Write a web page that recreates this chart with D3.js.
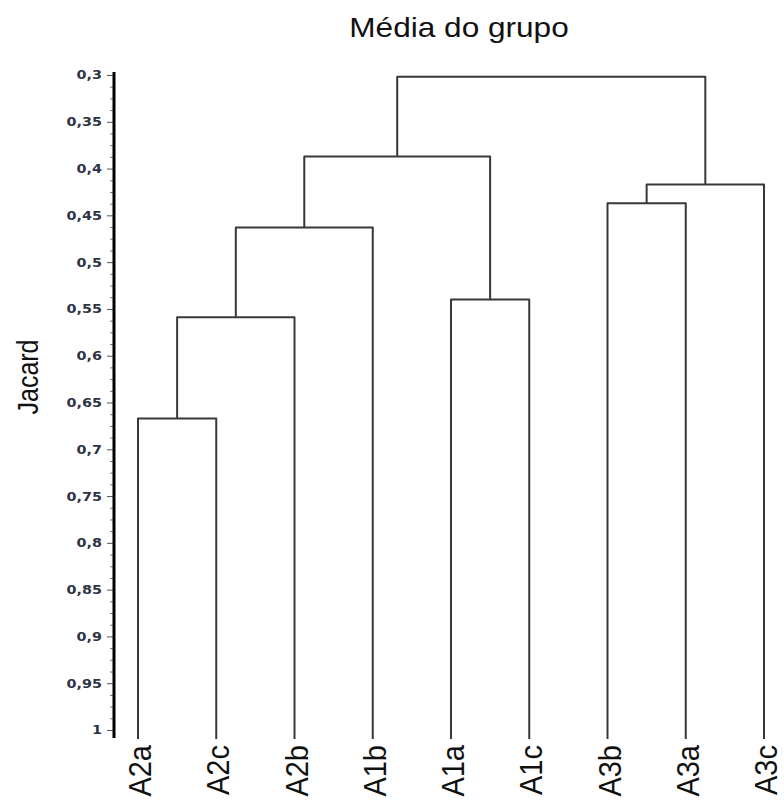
<!DOCTYPE html>
<html>
<head>
<meta charset="utf-8">
<script src="https://cdn.jsdelivr.net/npm/d3@7"></script>
<style>
  html, body { margin: 0; padding: 0; background: #fff; }
  svg { display: block; }
</style>
</head>
<body>
<svg id="chart" width="784" height="801"></svg>
<script>
// Leaves in display order
const leaves = ["A2a", "A2c", "A2b", "A1b", "A1a", "A1c", "A3b", "A3a", "A3c"];

// Agglomeration steps: cluster cN is the N-th merge (1-based)
const mergeLeft   = ["A2a", "c1", "c2", "A1a", "c3", "A3b", "c6", "c5"];
const mergeRight  = ["A2c", "A2b", "A1b", "A1c", "c4", "A3a", "A3c", "c7"];
const mergeHeight = [0.667, 0.559, 0.463, 0.540, 0.387, 0.437, 0.417, 0.302];

// Axis ticks
const tickValues = [0.3, 0.35, 0.4, 0.45, 0.5, 0.55, 0.6, 0.65, 0.7, 0.75, 0.8, 0.85, 0.9, 0.95, 1];
const tickLabels = ["0,3", "0,35", "0,4", "0,45", "0,5", "0,55", "0,6", "0,65", "0,7", "0,75", "0,8", "0,85", "0,9", "0,95", "1"];

const title = "Média do grupo";
const yTitle = "Jacard";

const svg = d3.select("#chart");

const y = d3.scaleLinear().domain([0.3, 1]).range([75, 730]);
const x = d3.scalePoint().domain(leaves).range([138, 764]);

const axisX = 114;
const leafBottom = 739;
const lineColor = "#383838";

// Node positions
const pos = {};
leaves.forEach(l => { pos[l] = { x: x(l), h: null }; });
mergeLeft.forEach((a, i) => {
  const b = mergeRight[i];
  pos["c" + (i + 1)] = { x: (pos[a].x + pos[b].x) / 2, h: mergeHeight[i] };
});
const nodeY = n => pos[n].h === null ? leafBottom : y(pos[n].h);

// Dendrogram links (vertical from child up to merge height, then horizontal bar)
const g = svg.append("g");
mergeLeft.forEach((a, i) => {
  const b = mergeRight[i];
  const hy = y(mergeHeight[i]);
  const path = d3.path();
  path.moveTo(pos[a].x, nodeY(a));
  path.lineTo(pos[a].x, hy);
  path.lineTo(pos[b].x, hy);
  path.lineTo(pos[b].x, nodeY(b));
  g.append("path")
    .attr("d", path.toString())
    .attr("fill", "none")
    .attr("stroke", lineColor)
    .attr("stroke-width", 2)
    .attr("stroke-linejoin", "round");
});

// Minor ticks
const minorTicks = d3.range(0, 57).map(i => 0.3 + i * 0.0125).filter(v => tickValues.every(t => Math.abs(t - v) > 1e-6));
const minorAxis = svg.append("g")
  .attr("transform", `translate(${axisX},0)`)
  .call(d3.axisLeft(y).tickValues(minorTicks).tickSize(4).tickFormat(""));
minorAxis.select(".domain").remove();
minorAxis.selectAll("line").attr("stroke", "#777").attr("stroke-width", 1);

// Major ticks with labels
const majorAxis = svg.append("g")
  .attr("transform", `translate(${axisX},0)`)
  .call(d3.axisLeft(y).tickValues(tickValues).tickSize(7)
    .tickFormat((d, i) => tickLabels[i]));
majorAxis.select(".domain").remove();
majorAxis.selectAll("line").attr("stroke", "#555").attr("stroke-width", 1);
majorAxis.selectAll("text").each(function () {
  d3.select(this)
    .attr("x", null).attr("dy", null).attr("y", null)
    .attr("text-anchor", "end")
    .attr("dominant-baseline", "central")
    .attr("transform", `translate(-12,0) scale(1.25,1)`)
    .style("font-family", "'DejaVu Sans', sans-serif")
    .style("font-weight", "bold")
    .style("font-size", "11.5px")
    .attr("fill", "#2e3444");
});

// Thick axis line
svg.append("line")
  .attr("x1", axisX).attr("x2", axisX)
  .attr("y1", 72).attr("y2", 738)
  .attr("stroke", "#000").attr("stroke-width", 3);

// Leaf labels
svg.append("g").selectAll("text")
  .data(leaves)
  .join("text")
  .attr("transform", d => `translate(${x(d) + 13},745) scale(1.08,1) rotate(-90)`)
  .attr("text-anchor", "end")
  .style("font-family", "'Liberation Sans', Arial, sans-serif")
  .style("font-size", "29px")
  .attr("fill", "#111")
  .text(d => d);

// Title
svg.append("text")
  .attr("transform", "translate(459,37) scale(1.17,1)")
  .attr("text-anchor", "middle")
  .style("font-family", "'Liberation Sans', Arial, sans-serif")
  .style("font-size", "27px")
  .attr("fill", "#111")
  .text(title);

// Y axis title
svg.append("text")
  .attr("transform", "translate(38,377) scale(1.15,1) rotate(-90)")
  .attr("text-anchor", "middle")
  .style("font-family", "'Liberation Sans', Arial, sans-serif")
  .style("font-size", "25px")
  .attr("fill", "#111")
  .text(yTitle);
</script>
</body>
</html>
